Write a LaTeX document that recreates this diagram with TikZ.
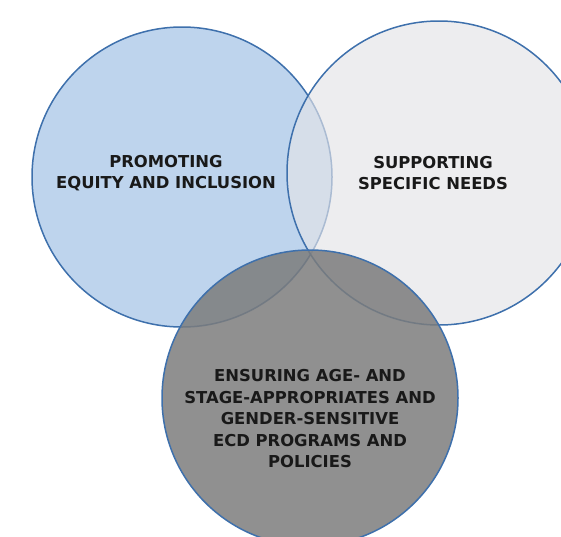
\documentclass[tikz,border=0pt]{standalone}
\usepackage{fontspec}
\setmainfont{DejaVu Sans}
\definecolor{ringblue}{RGB}{62,112,172}
\definecolor{equityfill}{RGB}{190,212,237}
\definecolor{needsfill}{RGB}{228,228,231}
\definecolor{ecdfill}{RGB}{124,124,124}
\tikzset{
  venn/.style={circle, draw=ringblue, line width=1.5pt, minimum size=300pt, inner sep=0pt},
  vlabel/.style={align=center, font=\bfseries\fontsize{16.4}{21.5}\selectfont, text=black!90}
}

\begin{document}
\begin{tikzpicture}[x=1pt, y=-1pt]
\useasboundingbox (0,0) rectangle (561,536);
\clip (0,0) rectangle (561,536);

% three overlapping circles
\node[venn, fill=equityfill] (equity) at (182,177) {};
\node[venn, fill=needsfill, fill opacity=0.65, minimum size=304pt] (needs) at (439,173) {};
\node[venn, fill=ecdfill, fill opacity=0.85, minimum size=296pt] (ecd) at (310,398) {};

% labels
\node[vlabel] (equitytext) at (166,173) {PROMOTING\\EQUITY AND INCLUSION};
\node[vlabel] (needstext) at (433,173) {SUPPORTING\\SPECIFIC NEEDS};
\node[vlabel] (ecdtext) at (310,419) {ENSURING AGE- AND\\STAGE-APPROPRIATES AND\\GENDER-SENSITIVE\\ECD PROGRAMS AND\\POLICIES};

\end{tikzpicture}
\end{document}
